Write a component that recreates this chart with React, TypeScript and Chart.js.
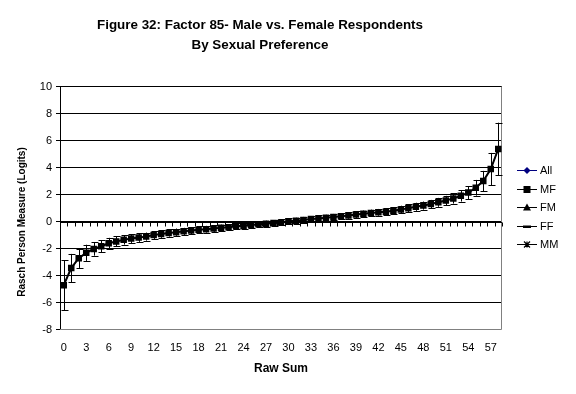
import React, { useEffect, useRef } from 'react';
import { Chart, registerables } from 'chart.js';

Chart.register(...registerables);

const FONT = '"Liberation Sans", Arial, Helvetica, sans-serif';

const titleLines = ['Figure 32: Factor 85- Male vs. Female Respondents', 'By Sexual Preference'];
const xAxisTitle = 'Raw Sum';
const yAxisTitle = 'Rasch Person Measure (Logits)';

const categories = [
  '0', '1', '2', '3', '4', '5', '6', '7', '8', '9',
  '10', '11', '12', '13', '14', '15', '16', '17', '18', '19',
  '20', '21', '22', '23', '24', '25', '26', '27', '28', '29',
  '30', '31', '32', '33', '34', '35', '36', '37', '38', '39',
  '40', '41', '42', '43', '44', '45', '46', '47', '48', '49',
  '50', '51', '52', '53', '54', '55', '56', '57', '58',
];
const xLabelStep = 3;

const allValues = [
  -4.72, -3.45, -2.72, -2.32, -2.03, -1.83, -1.61, -1.48, -1.36, -1.26,
  -1.19, -1.12, -1.0, -0.93, -0.85, -0.79, -0.73, -0.67, -0.62, -0.57,
  -0.52, -0.47, -0.42, -0.36, -0.31, -0.26, -0.21, -0.16, -0.11, -0.07,
  0.01, 0.06, 0.12, 0.18, 0.23, 0.28, 0.33, 0.39, 0.44, 0.51,
  0.57, 0.63, 0.68, 0.73, 0.79, 0.89, 0.99, 1.09, 1.18, 1.29,
  1.42, 1.55, 1.71, 1.9, 2.14, 2.5, 3.0, 3.88, 5.37,
];
const mfValues = [
  -4.72, -3.45, -2.72, -2.32, -2.03, -1.83, -1.61, -1.48, -1.36, -1.26,
  -1.19, -1.12, -1.0, -0.93, -0.85, -0.79, -0.73, -0.67, -0.62, -0.57,
  -0.52, -0.47, -0.42, -0.36, -0.31, -0.26, -0.21, -0.16, -0.11, -0.07,
  0.01, 0.06, 0.12, 0.18, 0.23, 0.28, 0.33, 0.39, 0.44, 0.51,
  0.57, 0.63, 0.68, 0.73, 0.79, 0.89, 0.99, 1.09, 1.18, 1.29,
  1.42, 1.55, 1.71, 1.9, 2.14, 2.5, 3.0, 3.88, 5.37,
];
const mfErrors = [
  1.85, 1.05, 0.72, 0.6, 0.5, 0.45, 0.4, 0.37, 0.35, 0.33,
  0.32, 0.3, 0.29, 0.28, 0.27, 0.27, 0.26, 0.26, 0.25, 0.25,
  0.24, 0.24, 0.23, 0.23, 0.23, 0.22, 0.22, 0.22, 0.22, 0.22,
  0.22, 0.22, 0.22, 0.22, 0.22, 0.22, 0.23, 0.23, 0.23, 0.24,
  0.24, 0.25, 0.25, 0.26, 0.27, 0.28, 0.29, 0.3, 0.3, 0.31,
  0.33, 0.35, 0.38, 0.42, 0.48, 0.58, 0.75, 1.2, 1.95,
];
const fmValues: (number | null)[] = [];
const ffValues: (number | null)[] = [];
const mmValues: (number | null)[] = [];

const yMin = -8;
const yMax = 10;
const yStep = 2;

const legendLabels = ['All', 'MF', 'FM', 'FF', 'MM'];
const legendColors = ['#000080', '#000000', '#000000', '#000000', '#000000'];

function drawMarker(ctx: CanvasRenderingContext2D, kind: number, x: number, y: number, color: string) {
  ctx.fillStyle = color;
  ctx.strokeStyle = color;
  ctx.beginPath();
  if (kind === 0) {
    ctx.moveTo(x, y - 3.5);
    ctx.lineTo(x + 3.5, y);
    ctx.lineTo(x, y + 3.5);
    ctx.lineTo(x - 3.5, y);
    ctx.closePath();
    ctx.fill();
  } else if (kind === 1) {
    ctx.rect(x - 3.5, y - 3.5, 7, 7);
    ctx.fill();
  } else if (kind === 2) {
    ctx.moveTo(x, y - 4);
    ctx.lineTo(x + 4, y + 3);
    ctx.lineTo(x - 4, y + 3);
    ctx.closePath();
    ctx.fill();
  } else if (kind === 3) {
    ctx.rect(x - 4, y - 1, 8, 2.5);
    ctx.fill();
  } else {
    ctx.lineWidth = 1.2;
    ctx.moveTo(x - 3, y - 3);
    ctx.lineTo(x + 3, y + 3);
    ctx.moveTo(x + 3, y - 3);
    ctx.lineTo(x - 3, y + 3);
    ctx.moveTo(x, y - 3);
    ctx.lineTo(x, y + 3);
    ctx.stroke();
  }
}

const decorPlugin = {
  id: 'decor',
  beforeDatasetsDraw(chart: any) {
    const { ctx, chartArea: ca, scales } = chart;
    const y = scales.y;
    ctx.save();
    ctx.strokeStyle = '#808080';
    ctx.lineWidth = 1;
    const rx = Math.round(ca.right) - 0.5;
    const by = Math.round(ca.bottom) - 0.5;
    ctx.beginPath();
    ctx.moveTo(rx, ca.top);
    ctx.lineTo(rx, by);
    ctx.lineTo(ca.left, by);
    ctx.stroke();
    const y0 = Math.round(y.getPixelForValue(0)) + 0.5;
    ctx.strokeStyle = '#000';
    ctx.beginPath();
    ctx.moveTo(ca.left, y0);
    ctx.lineTo(ca.right, y0);
    const n = categories.length;
    const band = (ca.right - ca.left) / n;
    for (let i = 0; i <= n; i++) {
      const xx = Math.round(ca.left + i * band) + 0.5;
      ctx.moveTo(xx, y0);
      ctx.lineTo(xx, y0 + 4);
    }
    ctx.stroke();
    ctx.restore();
  },
  afterDatasetsDraw(chart: any) {
    const { ctx, scales } = chart;
    const x = scales.x;
    const y = scales.y;
    ctx.save();
    ctx.strokeStyle = '#000';
    ctx.lineWidth = 1;
    ctx.beginPath();
    mfValues.forEach((v, i) => {
      const e = mfErrors[i];
      const px = Math.round(x.getPixelForValue(i)) + 0.5;
      const top = y.getPixelForValue(v + e);
      const bot = y.getPixelForValue(v - e);
      ctx.moveTo(px, top);
      ctx.lineTo(px, bot);
      ctx.moveTo(px - 3, Math.round(top) + 0.5);
      ctx.lineTo(px + 4, Math.round(top) + 0.5);
      ctx.moveTo(px - 3, Math.round(bot) + 0.5);
      ctx.lineTo(px + 4, Math.round(bot) + 0.5);
    });
    ctx.stroke();
    ctx.restore();
  },
  afterDraw(chart: any) {
    const { ctx, chartArea: ca } = chart;
    ctx.save();
    ctx.fillStyle = '#000';
    ctx.textAlign = 'center';
    ctx.textBaseline = 'middle';
    ctx.font = `bold 13.4px ${FONT}`;
    ctx.fillText(titleLines[0], 260, 25);
    ctx.fillText(titleLines[1], 260, 45);
    ctx.font = `bold 12px ${FONT}`;
    ctx.fillText(xAxisTitle, (ca.left + ca.right) / 2, 369);
    ctx.save();
    ctx.translate(22, 222);
    ctx.rotate(-Math.PI / 2);
    ctx.font = `bold 10px ${FONT}`;
    ctx.fillText(yAxisTitle, 0, 0);
    ctx.restore();
    ctx.textAlign = 'left';
    ctx.font = `11px ${FONT}`;
    legendLabels.forEach((lab, i) => {
      const ly = Math.round(170 + i * 18.6) + 0.5;
      const c = legendColors[i];
      ctx.strokeStyle = c;
      ctx.lineWidth = 1;
      ctx.beginPath();
      ctx.moveTo(517, ly);
      ctx.lineTo(537, ly);
      ctx.stroke();
      drawMarker(ctx, i, 527, ly, c);
      ctx.fillStyle = '#000';
      ctx.fillText(lab, 540, ly + 0.5);
    });
    ctx.restore();
  },
};

export default function App() {
  const canvasRef = useRef<HTMLCanvasElement | null>(null);

  useEffect(() => {
    const canvas = canvasRef.current;
    if (!canvas) return;
    const chart = new Chart(canvas, {
      type: 'line',
      data: {
        labels: categories,
        datasets: [
          {
            label: legendLabels[0],
            data: allValues,
            borderColor: '#000080',
            backgroundColor: '#000080',
            borderWidth: 1,
            pointStyle: 'rectRot',
            pointRadius: 3,
            pointBorderWidth: 0,
            order: 2,
          },
          {
            label: legendLabels[1],
            data: mfValues,
            borderColor: '#000000',
            backgroundColor: '#000000',
            borderWidth: 2,
            pointStyle: 'rect',
            pointRadius: 4.6,
            pointBorderWidth: 0,
            order: 1,
          },
          {
            label: legendLabels[2],
            data: fmValues,
            borderColor: '#000000',
            backgroundColor: '#000000',
            pointStyle: 'triangle',
            order: 3,
          },
          {
            label: legendLabels[3],
            data: ffValues,
            borderColor: '#000000',
            backgroundColor: '#000000',
            pointStyle: 'line',
            order: 4,
          },
          {
            label: legendLabels[4],
            data: mmValues,
            borderColor: '#000000',
            backgroundColor: '#000000',
            pointStyle: 'star',
            order: 5,
          },
        ],
      },
      options: {
        responsive: false,
        animation: false,
        events: [],
        layout: { padding: { left: 0, top: 86.5, right: 74, bottom: 0 } },
        plugins: {
          legend: { display: false },
          title: { display: false },
          tooltip: { enabled: false },
        },
        scales: {
          x: {
            type: 'category',
            offset: true,
            grid: { display: false, drawTicks: false },
            border: { display: false },
            ticks: {
              autoSkip: false,
              maxRotation: 0,
              minRotation: 0,
              padding: 12,
              color: '#000',
              font: { family: FONT, size: 11 },
              callback: (_v: any, i: number) => (i % xLabelStep === 0 ? categories[i] : ''),
            },
            afterFit: (s: any) => {
              s.height = 64.5;
            },
          },
          y: {
            min: yMin,
            max: yMax,
            ticks: {
              stepSize: yStep,
              padding: 4,
              color: '#000',
              font: { family: FONT, size: 11 },
            },
            grid: {
              color: (c: any) => (c.tick && c.tick.value === yMin ? 'rgba(0,0,0,0)' : '#000'),
              tickColor: '#000',
              tickLength: 4,
              lineWidth: 1,
            },
            border: { display: true, color: '#000', width: 1 },
            afterFit: (s: any) => {
              s.width = 60;
            },
          },
        },
      },
      plugins: [decorPlugin],
    });
    return () => chart.destroy();
  }, []);

  return (
    <div style={{ position: 'fixed', left: 0, top: 0, width: 576, height: 394, background: '#fff' }}>
      <canvas ref={canvasRef} width={576} height={394} style={{ width: 576, height: 394, display: 'block' }} />
    </div>
  );
}
